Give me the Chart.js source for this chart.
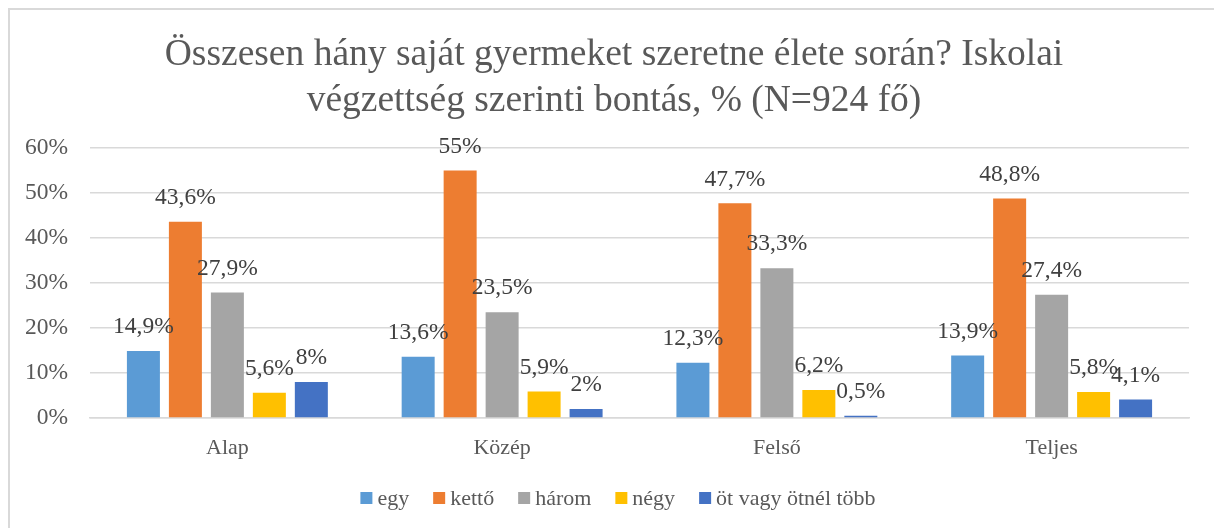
<!DOCTYPE html>
<html>
<head>
<meta charset="utf-8">
<script src="https://cdn.jsdelivr.net/npm/chart.js@4"></script>
<style>
    html, body { margin: 0; padding: 0; background: #fff; overflow: hidden; }
    #frame { position: absolute; left: 8px; top: 8px; width: 1300px; height: 600px; border: 2px solid #d9d9d9; }
    #wrap { position: absolute; left: 0; top: 0; width: 1214px; height: 528px; }
</style>
</head>
<body>
<div id="frame"></div>
<div id="wrap"><canvas id="chart"></canvas></div>
<script>
const categories = ["Alap", "Közép", "Felső", "Teljes"];

const seriesNames = ["egy", "kettő", "három", "négy", "öt vagy ötnél több"];

const egy = [14.9, 13.6, 12.3, 13.9];
const ketto = [43.6, 55, 47.7, 48.8];
const harom = [27.9, 23.5, 33.3, 27.4];
const negy = [5.6, 5.9, 6.2, 5.8];
const otVagyTobb = [8, 2, 0.5, 4.1];

const yTicks = [0, 10, 20, 30, 40, 50, 60];

const seriesColors = ["#5b9bd5", "#ed7d31", "#a5a5a5", "#ffc000", "#4472c4"];

const titleLines = [
    "Összesen hány saját gyermeket szeretne élete során? Iskolai",
    "végzettség szerinti bontás, % (N=924 fő)"
];

const serif = "'Liberation Serif', 'Times New Roman', serif";

function fmt(v) {
    return String(v).replace(".", ",") + "%";
}

// title centred on the whole (wider) office chart frame, not on the canvas
const frameTitle = {
    id: "frameTitle",
    afterDraw(chart) {
        const ctx = chart.ctx;
        ctx.save();
        ctx.font = "37.5px " + serif;
        ctx.fillStyle = "#595959";
        ctx.textAlign = "center";
        ctx.textBaseline = "middle";
        titleLines.forEach((line, i) => {
            ctx.fillText(line, 614, 55 + i * 46);
        });
        ctx.restore();
    }
};

// data labels above each bar
const barLabels = {
    id: "barLabels",
    afterDatasetsDraw(chart) {
        const ctx = chart.ctx;
        ctx.save();
        ctx.font = "23.5px " + serif;
        ctx.fillStyle = "#404040";
        ctx.textAlign = "center";
        ctx.textBaseline = "middle";
        chart.data.datasets.forEach((ds, i) => {
            chart.getDatasetMeta(i).data.forEach((bar, j) => {
                ctx.fillText(fmt(ds.data[j]), bar.x, bar.y - 24);
            });
        });
        ctx.restore();
    }
};

// legend row like the office one: small square, short gap, text
const bottomLegend = {
    id: "bottomLegend",
    afterDraw(chart) {
        const ctx = chart.ctx;
        const box = 12, gap = 5, spacing = 24, cx = 618, cy = 498;
        ctx.save();
        ctx.font = "22px " + serif;
        ctx.textBaseline = "middle";
        ctx.textAlign = "left";
        const items = chart.data.datasets.map(ds => ({
            text: ds.label,
            color: ds.backgroundColor,
            w: ctx.measureText(ds.label).width
        }));
        let total = 0;
        items.forEach((it, i) => {
            total += box + gap + it.w + (i > 0 ? spacing : 0);
        });
        let x = cx - total / 2;
        items.forEach(it => {
            ctx.fillStyle = it.color;
            ctx.fillRect(x, cy - box / 2, box, box);
            ctx.fillStyle = "#595959";
            ctx.fillText(it.text, x + box + gap, cy + 1);
            x += box + gap + it.w + spacing;
        });
        ctx.restore();
    }
};

const allSeries = [egy, ketto, harom, negy, otVagyTobb];

new Chart(document.getElementById("chart"), {
    type: "bar",
    data: {
        labels: categories,
        datasets: allSeries.map((values, i) => ({
            label: seriesNames[i],
            data: values,
            backgroundColor: seriesColors[i],
            borderWidth: 0,
            categoryPercentage: 0.764,
            barPercentage: 0.786
        }))
    },
    options: {
        responsive: true,
        maintainAspectRatio: false,
        animation: false,
        layout: {
            padding: { left: 0, right: 25, top: 148, bottom: 60 }
        },
        plugins: {
            title: { display: false },
            legend: { display: false },
            tooltip: { enabled: false }
        },
        scales: {
            x: {
                grid: { display: false, drawTicks: false },
                border: { display: true, color: "#d9d9d9", width: 1.5 },
                ticks: {
                    color: "#595959",
                    font: { family: serif, size: 22 },
                    padding: 17
                },
                afterFit(scale) {
                    scale.height = 50;
                }
            },
            y: {
                min: yTicks[0],
                max: yTicks[yTicks.length - 1],
                afterBuildTicks(scale) {
                    scale.ticks = yTicks.map(v => ({ value: v }));
                },
                ticks: {
                    color: "#595959",
                    font: { family: serif, size: 23.5 },
                    padding: 22,
                    callback: v => v + "%"
                },
                grid: { color: "#d9d9d9", lineWidth: 1.5, drawTicks: false },
                border: { display: false },
                afterFit(scale) {
                    scale.width = 90;
                }
            }
        }
    },
    plugins: [barLabels, bottomLegend, frameTitle]
});
</script>
</body>
</html>
